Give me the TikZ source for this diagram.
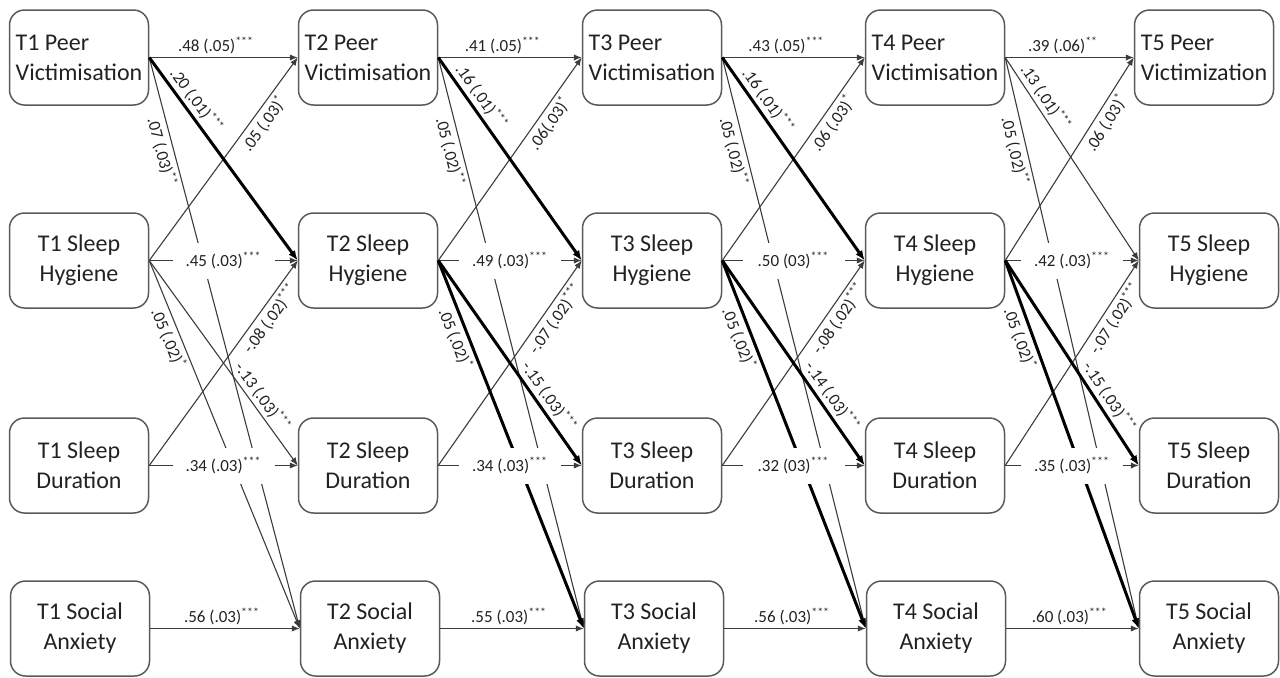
\documentclass[tikz,border=0pt]{standalone}
\usepackage{fontspec}
\setmainfont{Carlito}
\usetikzlibrary{arrows.meta}
\definecolor{boxc}{HTML}{5A5A5A}
\definecolor{linec}{HTML}{3C3C3C}
\definecolor{txtc}{HTML}{222222}
\newcommand{\sg}[1]{\textsuperscript{#1}}
\begin{document}
\begin{tikzpicture}[x=0.5pt,y=-0.5pt,
  var/.style={draw=boxc, line width=0.75pt, rounded corners=7.5pt, minimum width=69.5pt, minimum height=47.5pt, inner sep=0pt, font=\fontsize{12}{15}\selectfont, text=txtc, align=center},
  pvbox/.style={var, align=left},
  thinar/.style={draw=linec, line width=0.55pt, -{Latex[length=4pt,width=3.2pt]}},
  thickar/.style={draw=black, line width=1.5pt, -{Latex[length=5pt,width=4pt]}},
  lab/.style={font=\fontsize{8.5}{10}\selectfont, text=txtc, inner sep=1.5pt},
  midlab/.style={lab, fill=white, minimum width=51pt, minimum height=18pt},
]
\useasboundingbox (0,0) rectangle (1280,677);
% ---- nodes
\node[pvbox] (pv1) at (79,57.5) {T1 Peer\\Victimisation};
\node[var] (sh1) at (79,260.5) {T1 Sleep\\Hygiene};
\node[var] (sd1) at (79,465.5) {T1 Sleep\\Duration};
\node[var] (sa1) at (80,628.5) {T1 Social\\Anxiety};
\node[pvbox] (pv2) at (368,57.5) {T2 Peer\\Victimisation};
\node[var] (sh2) at (368,260.5) {T2 Sleep\\Hygiene};
\node[var] (sd2) at (368,465.5) {T2 Sleep\\Duration};
\node[var] (sa2) at (370,628.5) {T2 Social\\Anxiety};
\node[pvbox] (pv3) at (652,57.5) {T3 Peer\\Victimisation};
\node[var] (sh3) at (652,260.5) {T3 Sleep\\Hygiene};
\node[var] (sd3) at (652,465.5) {T3 Sleep\\Duration};
\node[var] (sa3) at (654,628.5) {T3 Social\\Anxiety};
\node[pvbox] (pv4) at (935,57.5) {T4 Peer\\Victimisation};
\node[var] (sh4) at (935,260.5) {T4 Sleep\\Hygiene};
\node[var] (sd4) at (935,465.5) {T4 Sleep\\Duration};
\node[var] (sa4) at (936,628.5) {T4 Social\\Anxiety};
\node[pvbox] (pv5) at (1204,57.5) {T5 Peer\\Victimization};
\node[var] (sh5) at (1209,260.5) {T5 Sleep\\Hygiene};
\node[var] (sd5) at (1209,465.5) {T5 Sleep\\Duration};
\node[var] (sa5) at (1209,628.5) {T5 Social\\Anxiety};
% ---- stage 1
\draw[thinar] (pv1.east) -- node[lab,above,pos=.45] {.48 (.05)\sg{***}} (pv2.west);
\draw[thinar] (pv1.east) -- node[lab,below,sloped,pos=.16] {.07 (.03)\sg{**}} (sa2.west);
\draw[thinar] (sh1.east) -- node[lab,below,sloped,pos=.71] {.05 (.03)\sg{*}} (pv2.west);
\draw[thinar] (sh1.east) -- (sh2.west);
\draw[thinar] (sh1.east) -- node[lab,above,sloped,pos=.70] {-.13 (.03)\sg{***}} (sd2.west);
\draw[thinar] (sh1.east) -- node[lab,below,sloped,pos=.20] {.05 (.02)\sg{*}} (sa2.west);
\draw[thinar] (sd1.east) -- node[lab,below,sloped,pos=.75] {-.08 (.02)\sg{***}} (sh2.west);
\draw[thinar] (sd1.east) -- (sd2.west);
\draw[thinar] (sa1.east) -- node[lab,above,pos=.48] {.56 (.03)\sg{***}} (sa2.west);
\draw[thickar] (pv1.east) -- node[lab,above,sloped,pos=.25] {.20 (.01)\sg{***}} (sh2.west);
% ---- stage 2
\draw[thinar] (pv2.east) -- node[lab,above,pos=.45] {.41 (.05)\sg{***}} (pv3.west);
\draw[thinar] (pv2.east) -- node[lab,below,sloped,pos=.16] {.05 (.02)\sg{**}} (sa3.west);
\draw[thinar] (sh2.east) -- node[lab,below,sloped,pos=.71] {.06(.03)\sg{*}} (pv3.west);
\draw[thinar] (sh2.east) -- (sh3.west);
\draw[thinar] (sd2.east) -- node[lab,below,sloped,pos=.75] {-.07 (.02)\sg{***}} (sh3.west);
\draw[thinar] (sd2.east) -- (sd3.west);
\draw[thinar] (sa2.east) -- node[lab,above,pos=.48] {.55 (.03)\sg{***}} (sa3.west);
\draw[thickar] (pv2.east) -- node[lab,above,sloped,pos=.23] {.16 (.01)\sg{***}} (sh3.west);
\draw[thickar] (sh2.east) -- node[lab,above,sloped,pos=.70] {-.15 (.03)\sg{***}} (sd3.west);
\draw[thickar] (sh2.east) -- node[lab,below,sloped,pos=.20] {.05 (.02)\sg{*}} (sa3.west);
% ---- stage 3
\draw[thinar] (pv3.east) -- node[lab,above,pos=.45] {.43 (.05)\sg{***}} (pv4.west);
\draw[thinar] (pv3.east) -- node[lab,below,sloped,pos=.16] {.05 (.02)\sg{**}} (sa4.west);
\draw[thinar] (sh3.east) -- node[lab,below,sloped,pos=.71] {.06 (.03)\sg{*}} (pv4.west);
\draw[thinar] (sh3.east) -- (sh4.west);
\draw[thinar] (sd3.east) -- node[lab,below,sloped,pos=.75] {-.08 (.02)\sg{***}} (sh4.west);
\draw[thinar] (sd3.east) -- (sd4.west);
\draw[thinar] (sa3.east) -- node[lab,above,pos=.48] {.56 (.03)\sg{***}} (sa4.west);
\draw[thickar] (pv3.east) -- node[lab,above,sloped,pos=.25] {.16 (.01)\sg{***}} (sh4.west);
\draw[thickar] (sh3.east) -- node[lab,above,sloped,pos=.70] {-.14 (.03)\sg{***}} (sd4.west);
\draw[thickar] (sh3.east) -- node[lab,below,sloped,pos=.20] {.05 (.02)\sg{*}} (sa4.west);
% ---- stage 4
\draw[thinar] (pv4.east) -- node[lab,above,pos=.45] {.39 (.06)\sg{**}} (pv5.west);
\draw[thinar] (pv4.east) -- node[lab,above,sloped,pos=.23] {.13 (.01)\sg{***}} (sh5.west);
\draw[thinar] (pv4.east) -- node[lab,below,sloped,pos=.16] {.05 (.02)\sg{**}} (sa5.west);
\draw[thinar] (sh4.east) -- node[lab,below,sloped,pos=.71] {.06 (.03)\sg{*}} (pv5.west);
\draw[thinar] (sh4.east) -- (sh5.west);
\draw[thinar] (sd4.east) -- node[lab,below,sloped,pos=.75] {-.07 (.02)\sg{***}} (sh5.west);
\draw[thinar] (sd4.east) -- (sd5.west);
\draw[thinar] (sa4.east) -- node[lab,above,pos=.48] {.60 (.03)\sg{***}} (sa5.west);
\draw[thickar] (sh4.east) -- node[lab,above,sloped,pos=.70] {-.15 (.03)\sg{***}} (sd5.west);
\draw[thickar] (sh4.east) -- node[lab,below,sloped,pos=.20] {.05 (.02)\sg{*}} (sa5.west);
% ---- mid labels with white background (drawn last)
\path (sh1.east) -- node[midlab] {.45 (.03)\sg{***}} (sh2.west);
\path (sd1.east) -- node[midlab] {.34 (.03)\sg{***}} (sd2.west);
\path (sh2.east) -- node[midlab] {.49 (.03)\sg{***}} (sh3.west);
\path (sd2.east) -- node[midlab] {.34 (.03)\sg{***}} (sd3.west);
\path (sh3.east) -- node[midlab] {.50 (03)\sg{***}} (sh4.west);
\path (sd3.east) -- node[midlab] {.32 (03)\sg{***}} (sd4.west);
\path (sh4.east) -- node[midlab] {.42 (.03)\sg{***}} (sh5.west);
\path (sd4.east) -- node[midlab] {.35 (.03)\sg{***}} (sd5.west);
\end{tikzpicture}
\end{document}
